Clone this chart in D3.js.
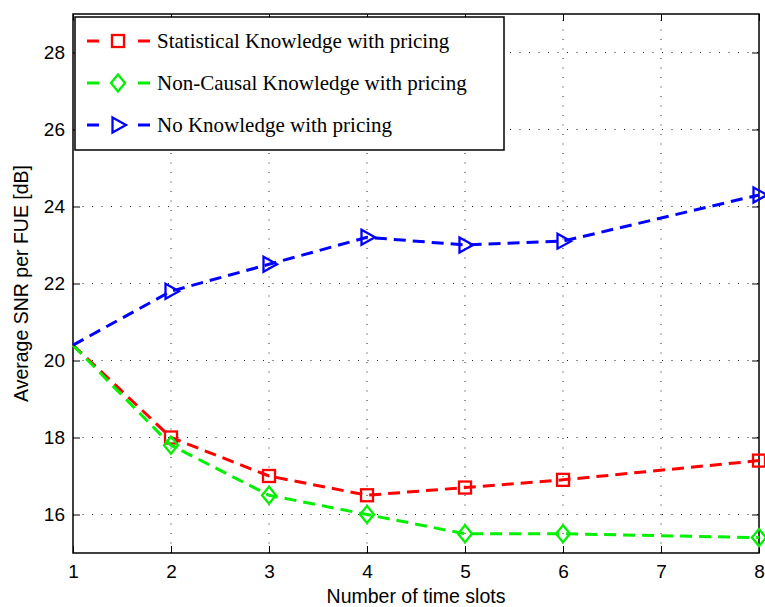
<!DOCTYPE html>
<html><head><meta charset="utf-8">
<script src="https://cdn.jsdelivr.net/npm/d3@7"></script>
<style>body{margin:0;background:#fff;} svg{display:block;}</style>
</head><body>
<svg id="c" width="765" height="607"></svg>
<script>
const slots = [1, 2, 3, 4, 5, 6, 8];
const showMarker = [false, true, true, true, true, true, true];
const statistical = [20.4, 18.0, 17.0, 16.5, 16.7, 16.9, 17.4];
const nonCausal = [20.4, 17.8, 16.5, 16.0, 15.5, 15.5, 15.4];
const noKnowledge = [20.4, 21.8, 22.5, 23.2, 23.0, 23.1, 24.3];
const seriesNames = ["Statistical Knowledge with pricing", "Non-Causal Knowledge with pricing", "No Knowledge with pricing"];
const xTicks = [1, 2, 3, 4, 5, 6, 7, 8];
const yTicks = [16, 18, 20, 22, 24, 26, 28];

const series = [
  {name: seriesNames[0], values: statistical, color: "#ff0000", marker: "square"},
  {name: seriesNames[1], values: nonCausal, color: "#00f000", marker: "diamond"},
  {name: seriesNames[2], values: noKnowledge, color: "#0000ff", marker: "triangle"}
];

const svg = d3.select("#c");
const L = 73, R = 759, T = 14, B = 553;
const x = d3.scaleLinear().domain([1, 8]).range([L, R]);
const y = d3.scaleLinear().domain([15, 29]).range([B, T]);

// grid
const g = svg.append("g");
g.selectAll(".gx").data(xTicks.slice(1, -1)).enter().append("line")
  .attr("x1", d => x(d)).attr("x2", d => x(d)).attr("y1", B).attr("y2", T)
  .attr("stroke", "#222").attr("stroke-width", 1).attr("stroke-dasharray", "1,8.5");
g.selectAll(".gy").data(yTicks).enter().append("line")
  .attr("x1", L).attr("x2", R).attr("y1", d => y(d)).attr("y2", d => y(d))
  .attr("stroke", "#222").attr("stroke-width", 1).attr("stroke-dasharray", "1,8.5");

// axes
const font = "'Liberation Sans', Arial, sans-serif";
const ax = d3.axisBottom(x).tickValues(xTicks).tickSize(-7).tickPadding(12).tickFormat(d3.format("d"));
const ay = d3.axisLeft(y).tickValues(yTicks).tickSize(-7).tickPadding(8).tickFormat(d3.format("d"));
const axT = d3.axisTop(x).tickValues(xTicks).tickSize(-7).tickFormat("");
const ayR = d3.axisRight(y).tickValues(yTicks).tickSize(-7).tickFormat("");
function style(sel){
  sel.select(".domain").remove();
  sel.selectAll("line").attr("stroke", "#000");
  sel.selectAll("text").attr("font-family", font).attr("font-size", 19).attr("fill", "#000");
}
svg.append("g").attr("transform", `translate(0,${B})`).call(ax).call(style);
svg.append("g").attr("transform", `translate(${L},0)`).call(ay).call(style);
svg.append("g").attr("transform", `translate(0,${T})`).call(axT).call(style);
svg.append("g").attr("transform", `translate(${R},0)`).call(ayR).call(style);
svg.append("rect").attr("x", L).attr("y", T).attr("width", R - L).attr("height", B - T)
  .attr("fill", "none").attr("stroke", "#000").attr("stroke-width", 1.5);

// axis titles
svg.append("text").attr("x", (L + R) / 2).attr("y", 603).attr("text-anchor", "middle")
  .attr("font-family", font).attr("font-size", 19.5).text("Number of time slots");
svg.append("text").attr("transform", `translate(28,${(T + B) / 2}) rotate(-90)`).attr("text-anchor", "middle")
  .attr("font-family", font).attr("font-size", 19.5).text("Average SNR per FUE [dB]");

// markers
function drawMarker(sel, type, color, cx, cy) {
  if (type === "square") {
    sel.append("rect").attr("x", cx - 6).attr("y", cy - 6).attr("width", 12).attr("height", 12)
      .attr("fill", "none").attr("stroke", color).attr("stroke-width", 2.3);
  } else if (type === "diamond") {
    sel.append("path").attr("d", `M${cx},${cy - 8.5}L${cx + 7},${cy}L${cx},${cy + 8.5}L${cx - 7},${cy}Z`)
      .attr("fill", "none").attr("stroke", color).attr("stroke-width", 2.3);
  } else {
    sel.append("path").attr("d", `M${cx - 5.5},${cy - 7.5}L${cx + 8},${cy}L${cx - 5.5},${cy + 7.5}Z`)
      .attr("fill", "none").attr("stroke", color).attr("stroke-width", 2.3);
  }
}

const line = d3.line().x((d, i) => x(slots[i])).y(d => y(d));
series.forEach(s => {
  svg.append("path").attr("d", line(s.values)).attr("fill", "none").attr("stroke", s.color)
    .attr("stroke-width", 3).attr("stroke-dasharray", "12,7");
  s.values.forEach((v, i) => {
    if (showMarker[i]) drawMarker(svg, s.marker, s.color, x(slots[i]), y(v));
  });
});

// legend
const lg = svg.append("g");
lg.append("rect").attr("x", 75).attr("y", 17).attr("width", 429).attr("height", 133)
  .attr("fill", "#fff").attr("stroke", "#000").attr("stroke-width", 1.5);
series.forEach((s, i) => {
  const ly = 41 + i * 42;
  [[87, 99], [138, 150]].forEach(seg => {
    lg.append("line").attr("x1", seg[0]).attr("x2", seg[1]).attr("y1", ly).attr("y2", ly)
      .attr("stroke", s.color).attr("stroke-width", 3);
  });
  drawMarker(lg, s.marker, s.color, 118, ly);
  lg.append("text").attr("x", 157).attr("y", ly + 7).attr("font-family", "'Liberation Serif', 'Times New Roman', serif")
    .attr("font-size", 21).attr("fill", "#000").text(s.name);
});
</script>
</body></html>
